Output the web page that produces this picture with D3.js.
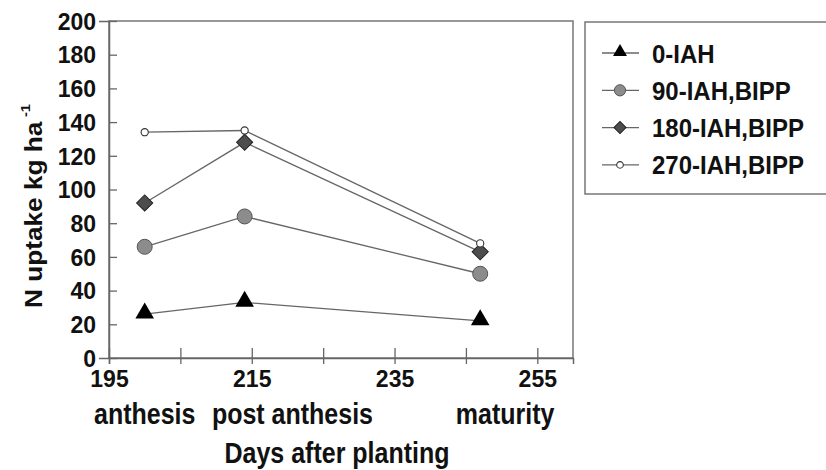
<!DOCTYPE html>
<html>
<head>
<meta charset="utf-8">
<script src="https://cdn.jsdelivr.net/npm/d3@7"></script>
<style>
  body { margin: 0; background: #fff; }
  text { font-family: "Liberation Sans", Arial, sans-serif; font-weight: bold; fill: #111; }
</style>
</head>
<body>
<svg id="chart" width="826" height="470"></svg>
<script>
// days after planting at each sampling
var days = [200, 214, 247];
var stageLabels = ["anthesis", "post anthesis", "maturity"];
var stageLabelDays = [200, 220.7, 250.5];

var seriesNames = ["0-IAH", "90-IAH,BIPP", "180-IAH,BIPP", "270-IAH,BIPP"];
var uptake0 = [26, 33, 22];
var uptake90 = [66, 84, 50];
var uptake180 = [92, 128, 63];
var uptake270 = [134, 135, 68];

var xTicks = [195, 205, 215, 225, 235, 245, 255];
var yTicks = [0, 20, 40, 60, 80, 100, 120, 140, 160, 180, 200];

var margin = {top: 21, right: 253, bottom: 112, left: 109},
    width = 826 - margin.left - margin.right,
    height = 470 - margin.top - margin.bottom;

var svg = d3.select("#chart");
var g = svg.append("g")
    .attr("transform", "translate(" + margin.left + "," + margin.top + ")");

var x = d3.scaleLinear().domain([195, 260]).range([0, width]);
var y = d3.scaleLinear().domain([0, 200]).range([height, 0]);

// frame
g.append("rect")
    .attr("width", width).attr("height", height)
    .attr("fill", "none").attr("stroke", "#777").attr("stroke-width", 1.5);

// y axis
var yAxis = g.append("g")
    .call(d3.axisLeft(y).tickValues(yTicks).tickSize(10).tickPadding(3));
yAxis.select(".domain").attr("stroke", "#666").attr("stroke-width", 1.5);
yAxis.selectAll(".tick line").attr("x2", 8).attr("stroke", "#666").attr("stroke-width", 1.3);
yAxis.selectAll(".tick text")
    .style("font-size", "23px").attr("dy", "0.36em").attr("fill", "#111");

// x axis
var xAxis = g.append("g")
    .attr("transform", "translate(0," + height + ")")
    .call(d3.axisBottom(x).tickValues(xTicks).tickSize(6).tickPadding(7)
      .tickFormat(function(d) { return (d - 195) % 20 === 0 ? d : ""; }));
xAxis.select(".domain").attr("stroke", "#666").attr("stroke-width", 1.5);
xAxis.selectAll(".tick line").attr("y1", -10).attr("stroke", "#666").attr("stroke-width", 1.3);
xAxis.selectAll(".tick text").style("font-size", "23px").attr("fill", "#111");

// stage labels (slightly tall lettering, as in the scanned figure)
g.selectAll(".stage")
    .data(stageLabels)
  .enter().append("text")
    .attr("class", "stage")
    .attr("transform", function(d, i) {
      return "translate(" + x(stageLabelDays[i]) + "," + (height + 66) + ") scale(1,1.15)";
    })
    .attr("text-anchor", "middle")
    .style("font-size", "25px")
    .text(function(d) { return d; });

g.append("text")
    .attr("transform", "translate(" + (width / 2 - 4) + "," + (height + 105) + ") scale(1,1.15)")
    .attr("text-anchor", "middle")
    .style("font-size", "25px")
    .text("Days after planting");

// y label
var yLab = svg.append("text")
    .attr("transform", "translate(42,206) rotate(-90) scale(1.14,1)")
    .attr("text-anchor", "middle")
    .style("font-size", "23px");
yLab.append("tspan").text("N uptake kg ha");
yLab.append("tspan").attr("dy", "-0.9em").attr("dx", "4").style("font-size", "13px").text("-1");

// series definitions
var tri = d3.symbol().type(d3.symbolTriangle);
var sq = d3.symbol().type(d3.symbolSquare);
var series = [
  {name: seriesNames[0], values: uptake0, shape: "triangle"},
  {name: seriesNames[1], values: uptake90, shape: "circle"},
  {name: seriesNames[2], values: uptake180, shape: "diamond"},
  {name: seriesNames[3], values: uptake270, shape: "small"}
];

var line = d3.line()
    .x(function(d, i) { return x(days[i]); })
    .y(function(d) { return y(d); });

function drawMarker(sel, shape, big) {
  var k = big ? 1 : 0.75;
  if (shape == "triangle") {
    sel.append("path").attr("d", tri.size(150 * k * k)())
      .attr("transform", "translate(0,-1)")
      .attr("fill", "#000");
  } else if (shape == "circle") {
    sel.append("circle").attr("r", 7.5 * k)
      .attr("fill", "#8c8c8c").attr("stroke", "#555").attr("stroke-width", 1);
  } else if (shape == "diamond") {
    sel.append("path").attr("d", sq.size(130 * k * k)())
      .attr("transform", "rotate(45)")
      .attr("fill", "#4d4d4d").attr("stroke", "#222").attr("stroke-width", 1);
  } else {
    sel.append("circle").attr("r", big ? 3.6 : 3.3)
      .attr("fill", "#fff").attr("stroke", "#333").attr("stroke-width", 1.1);
  }
}

series.forEach(function(s) {
  g.append("path")
      .datum(s.values)
      .attr("d", line)
      .attr("fill", "none")
      .attr("stroke", "#666")
      .attr("stroke-width", 1.3);
});

series.forEach(function(s) {
  g.selectAll(null)
      .data(s.values)
    .enter().append("g")
      .attr("transform", function(d, i) { return "translate(" + x(days[i]) + "," + y(d) + ")"; })
      .each(function() { drawMarker(d3.select(this), s.shape, true); });
});

// legend
var legend = svg.append("g").attr("transform", "translate(585,22)");
legend.append("rect")
    .attr("width", 260).attr("height", 172)
    .attr("fill", "none").attr("stroke", "#777").attr("stroke-width", 1.5);

var item = legend.selectAll(".item")
    .data(series)
  .enter().append("g")
    .attr("class", "item")
    .attr("transform", function(d, i) { return "translate(0," + (31 + i * 37.3) + ")"; });

item.append("line")
    .attr("x1", 17).attr("x2", 54)
    .attr("stroke", "#666").attr("stroke-width", 1.3);
item.append("g")
    .attr("transform", "translate(35,0)")
    .each(function(d) { drawMarker(d3.select(this), d.shape, false); });
item.append("text")
    .attr("transform", "translate(67,0) scale(1,1.1)")
    .attr("dy", "0.36em")
    .style("font-size", "24px")
    .text(function(d) { return d.name; });
</script>
</body>
</html>
